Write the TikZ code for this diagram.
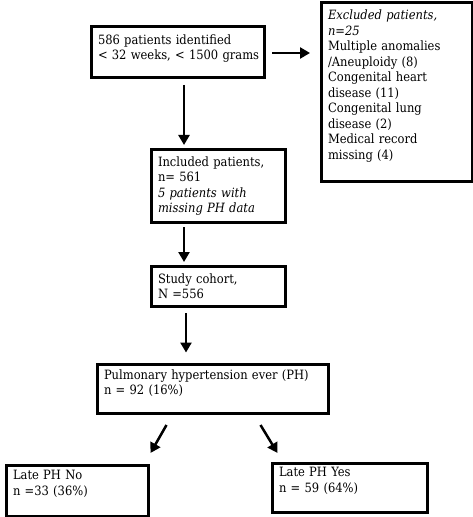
\documentclass[tikz,border=0pt]{standalone}
\usepackage{fontspec}
\setmainfont{DejaVu Serif Condensed}
\usetikzlibrary{positioning, arrows.meta, calc}

\begin{document}
\begin{tikzpicture}[x=1bp, y=-1bp,
    box/.style={draw, line width=3bp, anchor=north west, inner xsep=7bp, inner ysep=0pt,
                align=left, font=\fontsize{12.8bp}{15.5bp}\selectfont},
    arr/.style={line width=2.5bp, -{Triangle[length=10bp, width=11bp]}}]
  \useasboundingbox (0,0) rectangle (473,517);

  % Nodes
  \node[box, minimum width=173bp, minimum height=51bp, text width=159bp] (ident) at (89.5,25.5)
    {586 patients identified\\ \mbox{< 32 weeks, < 1500 grams}\\[-4.5bp]\mbox{}};
  \node[box, minimum width=151bp, minimum height=178bp, text width=137bp] (excl) at (319.5,1.5)
    {\textit{Excluded patients,}\\ \textit{n=25}\\ Multiple anomalies\\ /Aneuploidy (8)\\
     Congenital heart\\ disease (11)\\ Congenital lung\\ disease (2)\\ Medical record\\
     missing (4)\\[-0.5bp]\mbox{}};
  \node[box, minimum width=134bp, minimum height=72bp, text width=120bp] (incl) at (149.5,148.5)
    {Included patients,\\ n= 561\\ \textit{5 patients with}\\ \textit{missing PH data}};
  \node[box, minimum width=134bp, minimum height=40bp, text width=120bp] (cohort) at (149.5,264.5)
    {Study cohort,\\ N =556};
  \node[box, minimum width=231bp, minimum height=49bp, text width=217bp] (ph) at (95.5,362.5)
    {Pulmonary hypertension ever (PH)\\ n = 92 (16\%)\\[-2.5bp]\mbox{}};
  \node[box, minimum width=142bp, minimum height=51bp, text width=128bp] (lateno) at (4.5,463.5)
    {Late PH No\\ n =33 (36\%)\\[-0.5bp]\mbox{}};
  \node[box, minimum width=155bp, minimum height=49bp, text width=141bp] (lateyes) at (270.5,461.5)
    {Late PH Yes\\ n = 59 (64\%)\\[-0.5bp]\mbox{}};

  % Arrows
  \coordinate (colA) at (184,0);
  \coordinate (colB) at (186,0);
  \coordinate (rowA) at (0,53);
  \draw[arr, shorten <=6.5bp, shorten >=9.5bp] (ident.east |- rowA) -- (excl.west |- rowA);
  \draw[arr, shorten <=5.5bp, shorten >=3.5bp] (ident.south -| colA) -- (incl.north -| colA);
  \draw[arr, shorten <=3.5bp, shorten >=2.5bp] (incl.south -| colA) -- (cohort.north -| colA);
  \draw[arr, shorten <=5.5bp, shorten >=10bp] (cohort.south -| colB) -- (ph.north -| colB);
  \draw[arr] ($(ph.south)+(-46,10.5)$) -- ($(lateno.north)+(73.5,-10.5)$);
  \draw[arr] ($(ph.south)+(48,10.5)$) -- ($(lateyes.north)+(-72,-8.5)$);
\end{tikzpicture}
\end{document}
